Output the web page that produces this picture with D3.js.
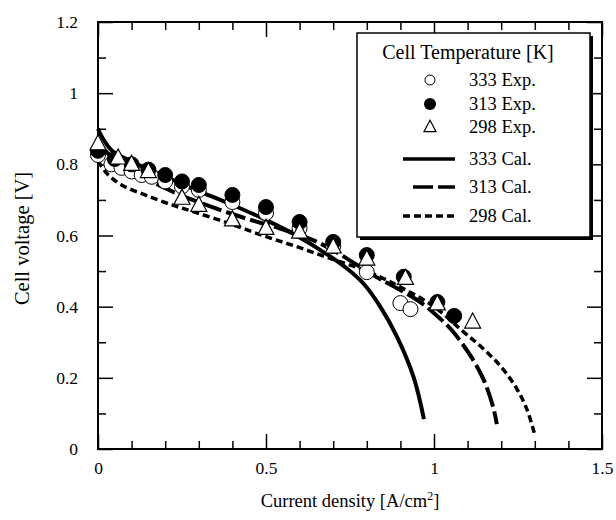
<!DOCTYPE html>
<html>
<head>
<meta charset="utf-8">
<script src="https://cdn.jsdelivr.net/npm/d3@7"></script>
<style>
  body { margin: 0; background: #fff; }
  svg { display: block; font-family: "Liberation Serif", "Times New Roman", serif; }
</style>
</head>
<body>
<svg width="616" height="520"></svg>
<script>
// measured data, [current density, voltage]
var exp333 = [[0, 0.826], [0.04, 0.80], [0.07, 0.79], [0.1, 0.78], [0.13, 0.77], [0.16, 0.765],
    [0.2, 0.752], [0.25, 0.738], [0.3, 0.728], [0.4, 0.694], [0.5, 0.663], [0.6, 0.62],
    [0.7, 0.57], [0.8, 0.497], [0.9, 0.41], [0.93, 0.393]];
var exp313 = [[0, 0.838], [0.05, 0.815], [0.1, 0.80], [0.15, 0.785], [0.2, 0.77], [0.25, 0.752],
    [0.3, 0.742], [0.4, 0.714], [0.5, 0.68], [0.6, 0.638], [0.7, 0.582], [0.8, 0.545],
    [0.91, 0.484], [1.01, 0.413], [1.06, 0.374]];
var exp298 = [[0, 0.858], [0.06, 0.818], [0.1, 0.80], [0.15, 0.78], [0.25, 0.705], [0.3, 0.685],
    [0.4, 0.644], [0.5, 0.62], [0.6, 0.61], [0.7, 0.568], [0.8, 0.534], [0.915, 0.48],
    [1.01, 0.408], [1.115, 0.357]];

// model curves
var cal333 = [[0, 0.90], [0.01, 0.88], [0.04, 0.84], [0.09, 0.812], [0.19, 0.77], [0.29, 0.728],
    [0.39, 0.69], [0.49, 0.648], [0.59, 0.60], [0.685, 0.545], [0.74, 0.508], [0.79, 0.465],
    [0.84, 0.40], [0.89, 0.315], [0.94, 0.20], [0.97, 0.084]];
var cal313 = [[0, 0.87], [0.02, 0.84], [0.05, 0.815], [0.1, 0.79], [0.16, 0.752], [0.24, 0.716],
    [0.33, 0.683], [0.44, 0.648], [0.54, 0.62], [0.64, 0.587], [0.71, 0.553], [0.82, 0.488],
    [0.89, 0.452], [0.96, 0.412], [1.03, 0.356], [1.06, 0.326], [1.09, 0.288], [1.12, 0.245],
    [1.15, 0.19], [1.176, 0.118], [1.187, 0.07]];
var cal298 = [[0, 0.81], [0.026, 0.775], [0.07, 0.742], [0.14, 0.714], [0.22, 0.686], [0.29, 0.665],
    [0.39, 0.634], [0.49, 0.60], [0.59, 0.569], [0.69, 0.536], [0.8, 0.50], [0.9, 0.455],
    [1.0, 0.40], [1.087, 0.33], [1.137, 0.29], [1.196, 0.235], [1.246, 0.17], [1.277, 0.11],
    [1.30, 0.04]];

var xMajor = [0, 0.5, 1, 1.5];
var xMinor = [0.1, 0.2, 0.3, 0.4, 0.6, 0.7, 0.8, 0.9, 1.1, 1.2, 1.3, 1.4];
var yMajor = [0, 0.2, 0.4, 0.6, 0.8, 1, 1.2];
var yMinor = [0.1, 0.3, 0.5, 0.7, 0.9, 1.1];

var legendTitle = "Cell Temperature [K]";
var legendLabels = ["333 Exp.", "313 Exp.", "298 Exp.", "333 Cal.", "313 Cal.", "298 Cal."];

var svg = d3.select("svg"),
    pLeft = 98, pRight = 602, pTop = 22, pBottom = 449;

var x = d3.scaleLinear().domain([0, 1.5]).range([pLeft, pRight]);
var y = d3.scaleLinear().domain([0, 1.2]).range([pBottom, pTop]);

var fmt = function(d) { return String(d); };

// axes with inward ticks on all four sides
function axisGroup(axis, transform) {
    var g = svg.append("g").attr("transform", transform).call(axis);
    g.select(".domain").remove();
    g.selectAll("line").attr("stroke", "#000").attr("stroke-width", 1.5);
    g.selectAll("text").attr("fill", "#000").style("font-size", "17.5px")
        .style("font-family", "Liberation Serif, serif");
    return g;
}

axisGroup(d3.axisBottom(x).tickValues(xMajor).tickSize(-15).tickPadding(13).tickFormat(fmt), "translate(0," + pBottom + ")");
axisGroup(d3.axisBottom(x).tickValues(xMinor).tickSize(-8).tickFormat(""), "translate(0," + pBottom + ")");
axisGroup(d3.axisTop(x).tickValues(xMajor).tickSize(-15).tickFormat(""), "translate(0," + pTop + ")");
axisGroup(d3.axisTop(x).tickValues(xMinor).tickSize(-8).tickFormat(""), "translate(0," + pTop + ")");
axisGroup(d3.axisLeft(y).tickValues(yMajor).tickSize(-15).tickPadding(20).tickFormat(fmt), "translate(" + pLeft + ",0)");
axisGroup(d3.axisLeft(y).tickValues(yMinor).tickSize(-8).tickFormat(""), "translate(" + pLeft + ",0)");
axisGroup(d3.axisRight(y).tickValues(yMajor).tickSize(-15).tickFormat(""), "translate(" + pRight + ",0)");
axisGroup(d3.axisRight(y).tickValues(yMinor).tickSize(-8).tickFormat(""), "translate(" + pRight + ",0)");

svg.append("rect")
    .attr("x", pLeft).attr("y", pTop)
    .attr("width", pRight - pLeft).attr("height", pBottom - pTop)
    .attr("fill", "none").attr("stroke", "#000").attr("stroke-width", 2);

// axis titles
var xt = svg.append("text")
    .attr("x", 350).attr("y", 507)
    .attr("text-anchor", "middle")
    .style("font-size", "18.5px");
xt.append("tspan").text("Current density [A/cm");
xt.append("tspan").attr("dy", -7).style("font-size", "12px").text("2");
xt.append("tspan").attr("dy", 7).text("]");

svg.append("text")
    .attr("transform", "translate(29," + ((pTop + pBottom) / 2 + 3) + ") rotate(-90)")
    .attr("text-anchor", "middle")
    .style("font-size", "20.5px")
    .text("Cell voltage [V]");

// curves
var line = d3.line()
    .x(function(d) { return x(d[0]); })
    .y(function(d) { return y(d[1]); })
    .curve(d3.curveCatmullRom.alpha(0.5));

var curves = [
    { data: cal298, dash: "7,4", width: 3.5 },
    { data: cal313, dash: "20,5", width: 4 },
    { data: cal333, dash: null, width: 4 }
];

svg.selectAll(".cal")
    .data(curves)
    .enter().append("path")
    .attr("class", "cal")
    .attr("d", function(c) { return line(c.data); })
    .attr("fill", "none")
    .attr("stroke", "#000")
    .attr("stroke-width", function(c) { return c.width; })
    .attr("stroke-dasharray", function(c) { return c.dash; });

// markers
function triPath(s) {
    return "M0," + (-0.62 * s) + "L" + (0.55 * s) + "," + (0.42 * s) + "L" + (-0.55 * s) + "," + (0.42 * s) + "Z";
}

svg.selectAll(".e333")
    .data(exp333)
    .enter().append("circle")
    .attr("cx", function(d) { return x(d[0]); })
    .attr("cy", function(d) { return y(d[1]); })
    .attr("r", 7.5)
    .attr("fill", "#fff").attr("stroke", "#000").attr("stroke-width", 1);

svg.selectAll(".e313")
    .data(exp313)
    .enter().append("circle")
    .attr("cx", function(d) { return x(d[0]); })
    .attr("cy", function(d) { return y(d[1]); })
    .attr("r", 7.5)
    .attr("fill", "#000").attr("stroke", "#000").attr("stroke-width", 1);

svg.selectAll(".e298")
    .data(exp298)
    .enter().append("path")
    .attr("transform", function(d) { return "translate(" + x(d[0]) + "," + y(d[1]) + ")"; })
    .attr("d", triPath(14.5))
    .attr("fill", "#fff").attr("stroke", "#000").attr("stroke-width", 1.2);

// legend
var lg = svg.append("g").attr("transform", "translate(357,33)");
lg.append("rect").attr("x", 3).attr("y", 3).attr("width", 233).attr("height", 204).attr("fill", "#000");
lg.append("rect").attr("width", 233).attr("height", 204)
    .attr("fill", "#fff").attr("stroke", "#000").attr("stroke-width", 1.5);

lg.append("text")
    .attr("x", 111).attr("y", 26)
    .attr("text-anchor", "middle")
    .style("font-size", "20px")
    .text(legendTitle);

var rowY = [47, 71, 94, 126, 154, 183];
var symX = 73, lineX0 = 46, lineX1 = 98;

lg.append("circle").attr("cx", symX).attr("cy", rowY[0]).attr("r", 5)
    .attr("fill", "#fff").attr("stroke", "#000").attr("stroke-width", 1);
lg.append("circle").attr("cx", symX).attr("cy", rowY[1]).attr("r", 6)
    .attr("fill", "#000");
lg.append("path").attr("transform", "translate(" + symX + "," + rowY[2] + ")")
    .attr("d", triPath(11))
    .attr("fill", "#fff").attr("stroke", "#000").attr("stroke-width", 1.2);

[null, "20,5", "7,4"].forEach(function(dash, i) {
    lg.append("line")
        .attr("x1", lineX0 + (dash === "20,5" ? 10 : 0)).attr("x2", lineX1)
        .attr("y1", rowY[3 + i]).attr("y2", rowY[3 + i])
        .attr("stroke", "#000").attr("stroke-width", 3.5)
        .attr("stroke-dasharray", dash);
});

lg.selectAll(".lab")
    .data(legendLabels)
    .enter().append("text")
    .attr("x", 112)
    .attr("y", function(d, i) { return rowY[i] + 6; })
    .style("font-size", "18.5px")
    .text(function(d) { return d; });
</script>
</body>
</html>
